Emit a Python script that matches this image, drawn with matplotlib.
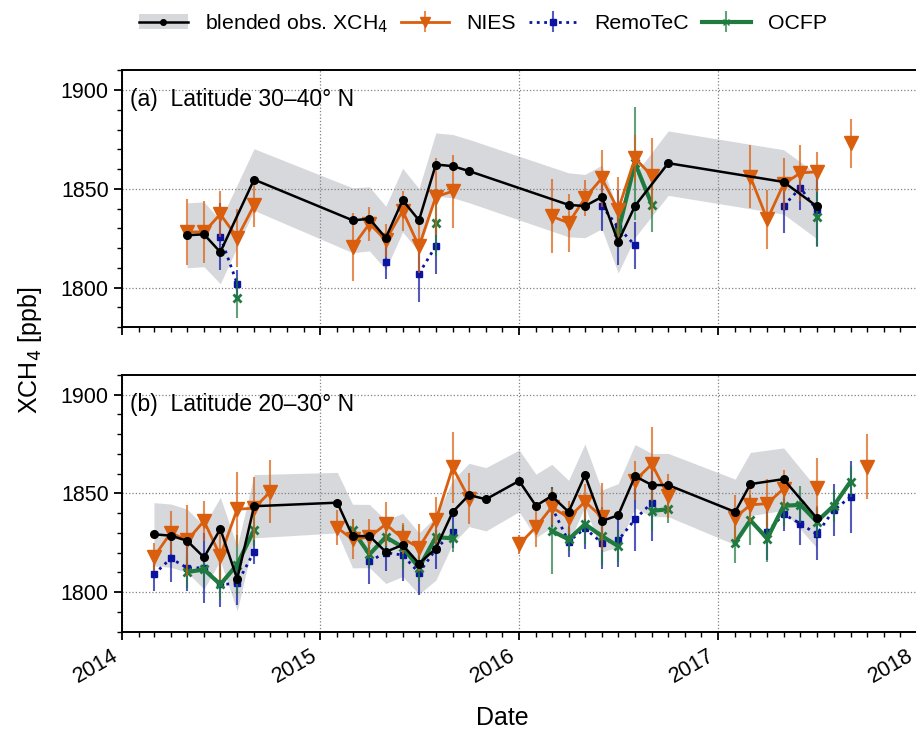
import matplotlib
matplotlib.use('Agg')
import matplotlib.pyplot as plt
import matplotlib.dates as mdates
from matplotlib.colors import to_rgba
from matplotlib.lines import Line2D
from matplotlib.patches import Patch
from matplotlib.ticker import MultipleLocator
import numpy as np
import pandas as pd

plt.rcParams['font.family'] = ['Liberation Sans', 'DejaVu Sans']

# ---- panel (a): latitude 30-40 N ----
blend_a_dates = ['2014-05', '2014-06', '2014-07', '2014-09', '2015-03', '2015-04', '2015-05',
                 '2015-06', '2015-07', '2015-08', '2015-09', '2015-10', '2016-04', '2016-05',
                 '2016-06', '2016-07', '2016-08', '2016-10', '2017-05', '2017-07']
blend_a = [1826.5, 1827.0, 1818.0, 1854.7, 1834.1, 1834.8, 1825.2, 1844.3, 1834.1, 1862.3,
           1861.5, 1859.0, 1841.9, 1841.3, 1845.9, 1823.2, 1841.4, 1863.0, 1853.5, 1841.2]
blend_a_err = [16.4, 16.4, 16.0, 15.6, 16.4, 16.2, 16.0, 16.1, 16.0, 16.0,
               16.0, 16.0, 16.2, 16.0, 16.1, 15.8, 16.0, 16.3, 16.3, 16.4]

nies_a_dates = ['2014-05', '2014-06', '2014-07', '2014-08', '2014-09', '2015-03', '2015-04',
                '2015-05', '2015-06', '2015-07', '2015-08', '2015-09', '2016-03', '2016-04',
                '2016-05', '2016-06', '2016-07', '2016-08', '2016-09', '2017-03', '2017-04',
                '2017-05', '2017-06', '2017-07', '2017-09']
nies_a = [1828.2, 1828.2, 1837.2, 1825.3, 1841.7, 1820.6, 1832.4, 1824.0, 1838.9, 1820.9,
          1846.0, 1848.8, 1836.1, 1832.8, 1845.3, 1855.4, 1839.4, 1865.5, 1856.6, 1856.1,
          1834.5, 1852.4, 1858.1, 1858.6, 1873.0]
nies_a_err = [16.6, 15.8, 11.8, 14.7, 11.0, 17.3, 8.6, 8.4, 10.1, 13.5,
              19.4, 18.4, 18.8, 14.5, 9.1, 14.4, 16.5, 12.0, 19.0, 15.9,
              15.0, 13.0, 14.0, 10.2, 12.4]

remo_a_dates = ['2014-07', '2014-08', '2015-05', '2015-07', '2015-08', '2016-06', '2016-07',
                '2016-08', '2017-05', '2017-06', '2017-07']
remo_a = [1825.7, 1802.0, 1813.0, 1807.1, 1821.1, 1841.4, 1830.6, 1821.4, 1841.4, 1850.5, 1839.2]
remo_a_err = [17.0, 7.0, 8.7, 14.2, 14.2, 12.5, 19.0, 12.0, 13.5, 11.1, 18.2]

ocfp_a_dates = ['2014-08', '2015-08', '2016-07', '2016-08', '2016-09', '2017-07']
ocfp_a = [1794.9, 1832.9, 1828.4, 1863.0, 1841.9, 1835.8]
ocfp_a_err = [10.0, 16.8, 9.0, 28.6, 13.9, 15.2]

# ---- panel (b): latitude 20-30 N ----
blend_b_dates = ['2014-03', '2014-04', '2014-05', '2014-06', '2014-07', '2014-08', '2014-09',
                 '2015-02', '2015-03', '2015-04', '2015-05', '2015-06', '2015-07', '2015-08',
                 '2015-09', '2015-10', '2015-11', '2016-01', '2016-02', '2016-03', '2016-04',
                 '2016-05', '2016-06', '2016-07', '2016-08', '2016-09', '2016-10', '2017-02',
                 '2017-03', '2017-05', '2017-07']
blend_b = [1829.3, 1828.6, 1826.0, 1817.6, 1832.0, 1806.7, 1843.5, 1845.3, 1828.4, 1828.4,
           1820.4, 1823.9, 1814.5, 1822.1, 1840.6, 1849.2, 1847.0, 1856.3, 1843.7, 1848.7,
           1840.6, 1859.2, 1836.0, 1838.9, 1858.7, 1854.2, 1854.2, 1840.6, 1854.7, 1857.2,
           1837.5]
blend_b_err = [16.0, 16.0, 16.0, 16.0, 16.0, 16.3, 16.0, 15.3, 16.1, 16.0,
               16.0, 16.0, 15.5, 16.0, 16.0, 16.0, 16.0, 15.6, 16.0, 16.0,
               16.0, 15.8, 15.7, 16.0, 16.0, 16.0, 16.0, 16.6, 16.0, 15.8,
               15.0]

nies_b_dates = ['2014-03', '2014-04', '2014-05', '2014-06', '2014-07', '2014-08', '2014-09',
                '2014-10', '2015-02', '2015-03', '2015-04', '2015-05', '2015-06', '2015-07',
                '2015-08', '2015-09', '2015-10', '2016-01', '2016-02', '2016-03', '2016-04',
                '2016-05', '2016-06', '2016-08', '2016-09', '2016-10', '2017-02', '2017-03',
                '2017-04', '2017-05', '2017-07', '2017-10']
nies_b = [1817.8, 1830.1, 1826.2, 1836.0, 1818.3, 1842.0, 1842.5, 1850.9, 1832.6, 1826.7,
          1827.9, 1834.4, 1827.2, 1822.5, 1836.4, 1863.1, 1847.4, 1824.2, 1833.0, 1843.0,
          1837.7, 1845.8, 1838.1, 1856.5, 1864.8, 1848.7, 1837.7, 1844.2, 1844.8, 1852.4,
          1852.9, 1863.5]
nies_b_err = [7.3, 11.0, 18.0, 10.0, 12.0, 18.6, 16.0, 16.0, 8.9, 10.0,
              9.0, 11.0, 8.0, 11.8, 11.8, 18.0, 12.9, 4.7, 10.2, 9.0,
              8.5, 9.0, 17.0, 10.0, 18.8, 11.0, 11.5, 8.5, 12.4, 9.3,
              15.0, 16.5]

remo_b_dates = ['2014-03', '2014-04', '2014-05', '2014-06', '2014-07', '2014-08', '2014-09',
                '2015-04', '2015-05', '2015-06', '2015-07', '2015-08', '2015-09', '2016-03',
                '2016-04', '2016-05', '2016-06', '2016-07', '2016-08', '2016-09', '2017-04',
                '2017-05', '2017-06', '2017-07', '2017-08', '2017-09']
remo_b = [1809.0, 1817.1, 1812.3, 1812.3, 1803.9, 1804.4, 1820.5, 1815.7, 1820.0, 1818.8,
          1809.8, 1821.7, 1830.6, 1843.1, 1825.6, 1832.3, 1825.0, 1826.2, 1836.9, 1845.3,
          1830.6, 1839.4, 1834.7, 1829.3, 1841.5, 1848.2]
remo_b_err = [8.6, 11.8, 11.7, 17.7, 11.4, 11.0, 6.0, 11.8, 9.3, 13.0,
              11.0, 10.0, 8.0, 10.0, 7.9, 10.6, 13.1, 13.7, 16.0, 19.6,
              14.4, 8.3, 11.0, 13.1, 13.3, 18.4]

ocfp_b_dates = ['2014-05', '2014-06', '2014-07', '2014-08', '2014-09', '2015-03', '2015-04',
                '2015-05', '2015-06', '2015-07', '2015-08', '2015-09', '2016-03', '2016-04',
                '2016-05', '2016-06', '2016-07', '2016-09', '2016-10', '2017-02', '2017-03',
                '2017-04', '2017-05', '2017-06', '2017-07', '2017-08', '2017-09']
ocfp_b = [1810.2, 1811.5, 1803.9, 1814.0, 1831.5, 1831.5, 1819.1, 1827.9, 1822.8, 1812.3,
          1827.9, 1827.2, 1831.0, 1826.7, 1834.4, 1828.4, 1823.3, 1841.1, 1842.0, 1825.0,
          1836.4, 1827.1, 1843.7, 1844.2, 1835.7, 1843.7, 1856.0]
ocfp_b_err = [8.0, 8.0, 8.0, 15.0, 8.0, 5.5, 7.0, 7.0, 11.0, 7.0,
              7.0, 7.0, 22.0, 6.0, 10.0, 14.7, 8.0, 10.0, 7.2, 10.3,
              12.7, 12.0, 10.0, 9.3, 8.0, 8.0, 8.0]

BAND = '#d7d8dc'
C_NIES = '#d95f0e'
C_REMO = '#0a14a0'
C_OCFP = '#1f7a40'

all_months = pd.date_range('2014-01-01', '2017-12-01', freq='MS')


def monthly(dates, vals, errs):
    # put a series on the full monthly grid so that missing months break the line
    df = pd.DataFrame({'v': vals, 'e': errs}, index=pd.to_datetime(dates))
    return df.reindex(all_months)


def draw_panel(ax, blend, nies, remo, ocfp, title):
    bd, bv, be = blend
    t = pd.to_datetime(bd)
    bv = np.array(bv)
    be = np.array(be)
    ax.fill_between(t, bv - be, bv + be, color=BAND, lw=0, zorder=1)

    d = monthly(*remo)
    ax.errorbar(d.index, d['v'], yerr=d['e'], color=C_REMO, ecolor=to_rgba(C_REMO, 0.7),
                ls=':', lw=2, marker='s', ms=5, elinewidth=1.5, capsize=0, zorder=3)
    d = monthly(*ocfp)
    ax.errorbar(d.index, d['v'], yerr=d['e'], color=C_OCFP, ecolor=to_rgba(C_OCFP, 0.7),
                ls='-', lw=3, marker='x', ms=6, mew=2, elinewidth=1.5, capsize=0, zorder=4)
    d = monthly(*nies)
    ax.errorbar(d.index, d['v'], yerr=d['e'], color=C_NIES, ecolor=to_rgba(C_NIES, 0.7),
                ls='-', lw=2, marker='v', ms=10, elinewidth=1.5, capsize=0, zorder=5)

    ax.plot(t, bv, color='k', lw=1.8, marker='o', ms=5.5, zorder=6)

    ax.set_xlim(pd.Timestamp('2014-01-01'), pd.Timestamp('2018-01-01'))
    ax.set_ylim(1780, 1910)
    ax.xaxis.set_major_locator(mdates.YearLocator())
    ax.xaxis.set_minor_locator(mdates.MonthLocator())
    ax.xaxis.set_major_formatter(mdates.DateFormatter('%Y'))
    ax.yaxis.set_major_locator(MultipleLocator(50))
    ax.yaxis.set_minor_locator(MultipleLocator(10))
    ax.tick_params(which='major', length=6, width=1.3, labelsize=15.5)
    ax.tick_params(which='minor', length=3.5, width=1.0)
    ax.grid(True, which='major', ls=':', color='gray', lw=0.9)
    for s in ax.spines.values():
        s.set_linewidth(1.4)
    ax.text(0.01, 0.885, title, transform=ax.transAxes, va='center', ha='left', fontsize=16.5)


fig = plt.figure(figsize=(9.16, 7.32), dpi=100)
ax1 = fig.add_axes([0.133, 0.553, 0.868, 0.351])
ax2 = fig.add_axes([0.133, 0.137, 0.868, 0.351])

draw_panel(ax1, (blend_a_dates, blend_a, blend_a_err), (nies_a_dates, nies_a, nies_a_err),
           (remo_a_dates, remo_a, remo_a_err), (ocfp_a_dates, ocfp_a, ocfp_a_err),
           '(a)  Latitude 30\u201340\u00b0 N')
draw_panel(ax2, (blend_b_dates, blend_b, blend_b_err), (nies_b_dates, nies_b, nies_b_err),
           (remo_b_dates, remo_b, remo_b_err), (ocfp_b_dates, ocfp_b, ocfp_b_err),
           '(b)  Latitude 20\u201330\u00b0 N')

ax1.tick_params(axis='x', labelbottom=False)
for lab in ax2.get_xticklabels():
    lab.set_rotation(30)
    lab.set_ha('right')

fig.text(0.033, 0.522, 'XCH$_4$ [ppb]', rotation=90, va='center', ha='center', fontsize=18)
fig.text(0.548, 0.019, 'Date', va='center', ha='center', fontsize=18)

# legend
h_blend = (Patch(facecolor=BAND, edgecolor='none'),
           Line2D([], [], color='k', lw=1.8, marker='o', ms=4))
h_nies = plt.errorbar([], [], yerr=[], color=C_NIES, ecolor=to_rgba(C_NIES, 0.7), lw=2,
                      marker='v', ms=7, elinewidth=1.5)
h_remo = plt.errorbar([], [], yerr=[], color=C_REMO, ecolor=to_rgba(C_REMO, 0.7), lw=2,
                      ls=':', marker='s', ms=4, elinewidth=1.5)
h_ocfp = plt.errorbar([], [], yerr=[], color=C_OCFP, ecolor=to_rgba(C_OCFP, 0.7), lw=3,
                      marker='x', ms=4, elinewidth=1.5)
fig.legend([h_blend, h_nies, h_remo, h_ocfp],
           ['blended obs. XCH$_4$', 'NIES', 'RemoTeC', 'OCFP'],
           loc='center', bbox_to_anchor=(0.527, 0.968), ncol=4, frameon=False,
           fontsize=15.3, handlelength=2.3, columnspacing=0.6, handletextpad=0.8)

fig.savefig('out.png', dpi=100)
